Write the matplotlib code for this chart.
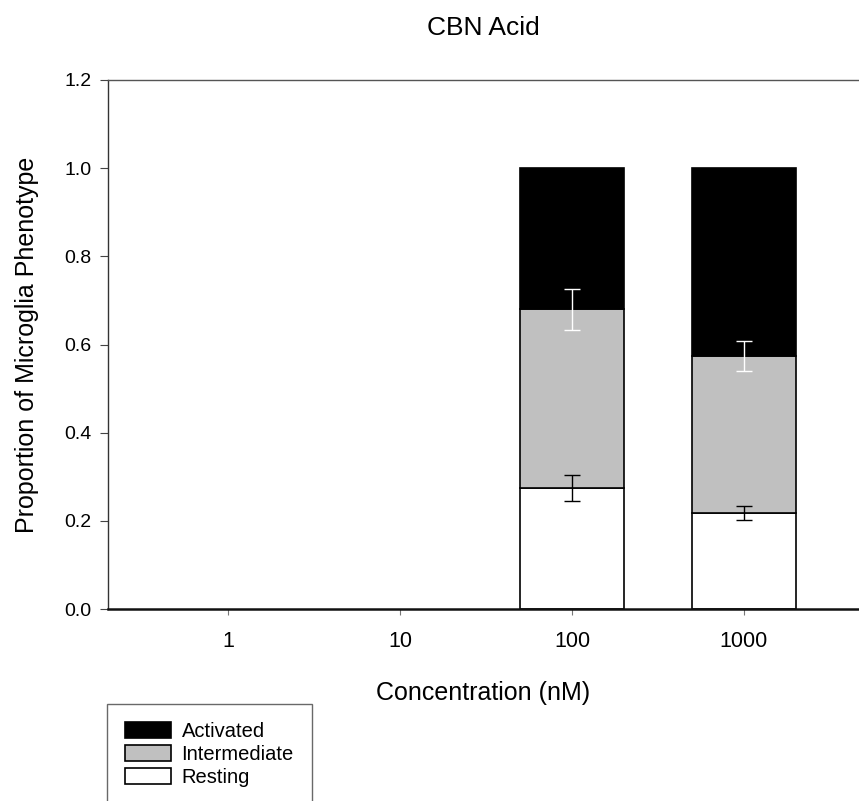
import numpy as np
import matplotlib
matplotlib.use('Agg')
import matplotlib.pyplot as plt

plt.rcParams['font.family'] = ['Liberation Sans', 'DejaVu Sans']

concentrations = ['1', '10', '100', '1000']
resting = [np.nan, np.nan, 0.274, 0.218]
resting_err = [np.nan, np.nan, 0.029, 0.016]
intermediate = [np.nan, np.nan, 0.406, 0.355]
intermediate_err = [np.nan, np.nan, 0.046, 0.034]
activated = [np.nan, np.nan, 0.320, 0.427]

resting = np.array(resting)
intermediate = np.array(intermediate)
activated = np.array(activated)
x = np.arange(len(concentrations))

fig = plt.figure(figsize=(8.59, 8.01), dpi=100)
ax = fig.add_axes([108 / 859, 192 / 801, 751 / 859, 529 / 801])

width = 0.6
ax.bar(x, resting, width, color='white', edgecolor='black', linewidth=1.2,
       label='Resting', zorder=2)
ax.bar(x, intermediate, width, bottom=resting, color='#c0c0c0',
       edgecolor='black', linewidth=1.2, label='Intermediate', zorder=2)
ax.bar(x, activated, width, bottom=resting + intermediate, color='black',
       edgecolor='black', linewidth=1.2, label='Activated', zorder=2)

ax.errorbar(x, resting, yerr=resting_err, fmt='none', ecolor='black',
            elinewidth=1, capsize=5.5, capthick=1, zorder=3)
ax.errorbar(x, resting + intermediate, yerr=intermediate_err, fmt='none',
            ecolor='white', elinewidth=1, capsize=5.5, capthick=1, zorder=3)

ax.set_xlim(-0.698, 3.669)
ax.set_ylim(0, 1.2)
ax.set_yticks(np.arange(0, 1.21, 0.2))
ax.set_yticklabels(['%.1f' % v for v in np.arange(0, 1.21, 0.2)])
ax.set_xticks(x)
ax.set_xticklabels(concentrations)

ax.spines['right'].set_visible(False)
ax.spines['top'].set_color('#555555')
ax.spines['top'].set_linewidth(1.0)
ax.spines['left'].set_color('#333333')
ax.spines['left'].set_linewidth(1.0)
ax.spines['bottom'].set_color('#111111')
ax.spines['bottom'].set_linewidth(1.8)

ax.tick_params(axis='y', direction='out', length=6, width=0.8,
               color='#444444', pad=6, labelsize=14)
ax.tick_params(axis='x', direction='out', length=4, width=0.8,
               color='#777777', pad=12, labelsize=15.5)

ax.set_xlabel('Concentration (nM)', fontsize=18, va='center')
ax.xaxis.set_label_coords(0.5, -0.159)
ax.set_ylabel('Proportion of Microglia Phenotype', fontsize=18, va='center')
ax.yaxis.set_label_coords(-0.108, 0.5)

fig.text(483 / 859, 1 - 28 / 801, 'CBN Acid', fontsize=19, ha='center',
         va='center')

handles, labels = ax.get_legend_handles_labels()
leg = fig.legend(handles[::-1], labels[::-1], loc='upper left',
                 bbox_to_anchor=(107 / 859, 1 - 704 / 801), fontsize=14.5,
                 frameon=True, fancybox=False, borderpad=0.9,
                 handlelength=2.3, handleheight=0.8, handletextpad=0.5,
                 labelspacing=0.2, borderaxespad=0)
leg.get_frame().set_edgecolor('#444444')
leg.get_frame().set_linewidth(1.0)

fig.savefig('out.png', dpi=100)
